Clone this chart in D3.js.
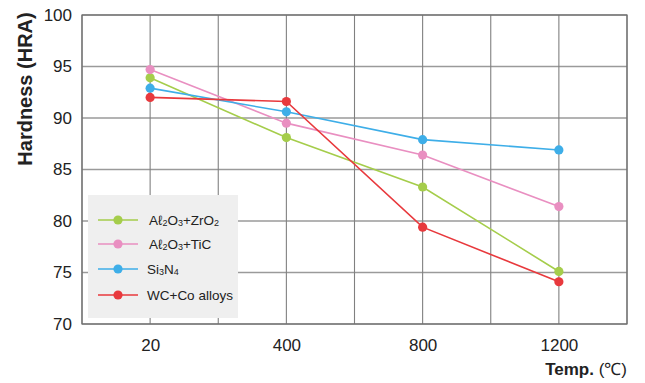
<!DOCTYPE html>
<html>
<head>
<meta charset="utf-8">
<script src="https://cdn.jsdelivr.net/npm/d3@7"></script>
<style>
  html, body { margin: 0; padding: 0; background: #fff; }
  svg { display: block; font-family: "Liberation Sans", Arial, Helvetica, sans-serif; }
</style>
</head>
<body>
<svg id="chart" width="645" height="383"></svg>
<script>
const categories = ["20", "400", "800", "1200"];
const yTicks = [70, 75, 80, 85, 90, 95, 100];
const seriesNames = ["Al2O3+ZrO2", "Al2O3+TiC", "Si3N4", "WC+Co alloys"];
const zrO2Values = [93.9, 88.1, 83.3, 75.1];
const ticValues = [94.7, 89.5, 86.4, 81.4];
const si3n4Values = [92.9, 90.6, 87.9, 86.9];
const wcCoValues = [92.0, 91.6, 79.4, 74.1];
const seriesColors = ["#a5cd4b", "#e98fc1", "#3eaee8", "#e8393d"];

const series = [
  { name: seriesNames[0], values: zrO2Values, color: seriesColors[0],
    parts: [["A",0],["ℓ",0],["2",1],["O",0],["3",1],["+ZrO",0],["2",1]] },
  { name: seriesNames[1], values: ticValues, color: seriesColors[1],
    parts: [["A",0],["ℓ",0],["2",1],["O",0],["3",1],["+TiC",0]] },
  { name: seriesNames[2], values: si3n4Values, color: seriesColors[2],
    parts: [["Si",0],["3",1],["N",0],["4",1]] },
  { name: seriesNames[3], values: wcCoValues, color: seriesColors[3],
    parts: [["WC+Co alloys",0]] }
];

const svg = d3.select("#chart");
const mLeft = 82, mRight = 627, mTop = 15, mBottom = 324;

const x = d3.scalePoint().domain(categories).range([mLeft, mRight]).padding(0.5);
const y = d3.scaleLinear().domain([70, 100]).range([mBottom, mTop]);

// horizontal grid
svg.append("g").selectAll("line").data(yTicks).join("line")
  .attr("x1", mLeft).attr("x2", mRight)
  .attr("y1", d => y(d)).attr("y2", d => y(d))
  .attr("stroke", "#9a9a9a").attr("stroke-width", 1.3);

// vertical grid (category positions and midpoints)
const step = x.step();
const vx = d3.range(0, categories.length * 2 + 1).map(i => x(categories[0]) - step / 2 + i * step / 2);
svg.append("g").selectAll("line").data(vx).join("line")
  .attr("x1", d => d).attr("x2", d => d)
  .attr("y1", mTop).attr("y2", mBottom)
  .attr("stroke", "#808080").attr("stroke-width", 1.1);

// frame
svg.append("rect").attr("x", mLeft).attr("y", mTop)
  .attr("width", mRight - mLeft).attr("height", mBottom - mTop)
  .attr("fill", "none").attr("stroke", "#6e6e6e").attr("stroke-width", 1.2);

// axes
const yAxis = svg.append("g").attr("transform", `translate(${mLeft},0)`)
  .call(d3.axisLeft(y).tickValues(yTicks).tickSize(0).tickPadding(10));
yAxis.select(".domain").remove();
yAxis.selectAll("text").attr("font-size", 17).attr("fill", "#222")
  .style("font-family", "'Liberation Sans', Arial, sans-serif");

const xAxis = svg.append("g").attr("transform", `translate(0,${mBottom})`)
  .call(d3.axisBottom(x).tickSize(0).tickPadding(15));
xAxis.select(".domain").remove();
xAxis.selectAll("text").attr("font-size", 17).attr("fill", "#222")
  .style("font-family", "'Liberation Sans', Arial, sans-serif");

// axis titles
svg.append("text")
  .attr("transform", `translate(32,89) rotate(-90)`)
  .attr("text-anchor", "middle")
  .attr("font-size", 20).attr("font-weight", "bold").attr("fill", "#222")
  .text("Hardness (HRA)");

const xt = svg.append("text").attr("x", 627).attr("y", 375)
  .attr("text-anchor", "end").attr("font-size", 17).attr("fill", "#222");
xt.append("tspan").attr("font-weight", "bold").text("Temp. ");
xt.append("tspan").text("(℃)");

// lines and points
const line = d3.line().x((d, i) => x(categories[i])).y(d => y(d));
const sg = svg.append("g").selectAll("g").data(series).join("g");
sg.append("path").attr("d", d => line(d.values))
  .attr("fill", "none").attr("stroke", d => d.color).attr("stroke-width", 1.6);
sg.selectAll("circle").data(d => d.values.map((v, i) => ({ v, i, c: d.color }))).join("circle")
  .attr("cx", d => x(categories[d.i])).attr("cy", d => y(d.v))
  .attr("r", 4.6).attr("fill", d => d.c);

// legend
const lg = svg.append("g");
lg.append("rect").attr("x", 88).attr("y", 195).attr("width", 150).attr("height", 123)
  .attr("fill", "#efefef");
const rowY = [220, 244, 269, 295];
const textX = [149, 149, 147, 147];
series.forEach((s, k) => {
  const g = lg.append("g");
  g.append("line").attr("x1", 98).attr("x2", 138).attr("y1", rowY[k]).attr("y2", rowY[k])
    .attr("stroke", s.color).attr("stroke-width", 1.6);
  g.append("circle").attr("cx", 118).attr("cy", rowY[k]).attr("r", 4.6).attr("fill", s.color);
  const t = g.append("text").attr("x", textX[k]).attr("y", rowY[k] + 5)
    .attr("font-size", 13.5).attr("fill", "#222");
  let off = 0;
  s.parts.forEach(([str, sub]) => {
    const target = sub ? 1 : 0;
    const ts = t.append("tspan").text(str).attr("dy", target - off);
    if (sub) ts.attr("font-size", 9);
    off = target;
  });
});
</script>
</body>
</html>
